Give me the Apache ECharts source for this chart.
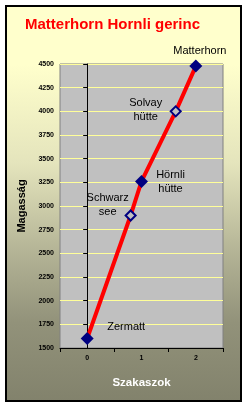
<!DOCTYPE html>
<html><head><meta charset="utf-8">
<script src="https://cdn.jsdelivr.net/npm/echarts@6/dist/echarts.min.js"></script>
<style>html,body{margin:0;padding:0;background:#fff}#c{width:248px;height:408px}</style>
</head><body><div id="c"></div>
<script>
const title = 'Matterhorn Hornli gerinc';
const xTitle = 'Szakaszok';
const yTitle = 'Magasság';
const xTickLabels = ['0', '1', '2'];
const pointNames = ['Zermatt', 'Schwarz\nsee', 'Hörnli\nhütte', 'Solvay\nhütte', 'Matterhorn'];
const pointX = [0, 0.8, 1, 1.63, 2];
const pointY = [1600, 2900, 3260, 4000, 4478];
const pointFilled = [true, false, true, false, true];
const yMin = 1500, yMax = 4500, yStep = 250;

const labelOffsets = [[39, -12], [-23, -10], [29, 1], [-30, -1], [4, -15]];

const chart = echarts.init(document.getElementById('c'), null, {renderer: 'canvas'});
const linePts = pointX.map((x, i) => [x, pointY[i]]);
function pts(filled) {
  return pointX.map((x, i) => ({
    value: [x, pointY[i]], name: pointNames[i], filled: pointFilled[i],
    label: {offset: labelOffsets[i]}
  })).filter(d => d.filled === filled);
}
const lblStyle = {show: true, position: 'inside', formatter: p => p.name, color: '#000',
  fontFamily: 'Liberation Sans, Arial', fontSize: 11, lineHeight: 14, align: 'center', verticalAlign: 'middle'};

chart.setOption({
  animation: false,
  graphic: [{
    type: 'rect', z: -10, silent: true,
    shape: {x: 6, y: 6, width: 235, height: 395},
    style: {
      fill: new echarts.graphic.LinearGradient(0, 0, 0, 1, [
        {offset: 0, color: '#FFFFCC'}, {offset: 0.15, color: '#FFFFCC'},
        {offset: 0.4, color: '#E4E4BC'}, {offset: 0.62, color: '#B4B496'},
        {offset: 0.8, color: '#92927A'}, {offset: 1, color: '#82826C'}]),
      stroke: '#000', lineWidth: 2
    }
  }],
  title: {text: title, left: 20, top: 12,
    textStyle: {color: '#FF0000', fontFamily: 'Liberation Sans, Arial', fontWeight: 'bold', fontSize: 15}},
  grid: {left: 60, right: 25, top: 64, bottom: 60, show: true, backgroundColor: '#C0C0C0',
    borderColor: '#808080', borderWidth: 1},
  xAxis: [{
    type: 'category', data: xTickLabels, boundaryGap: true, position: 'bottom',
    axisLine: {lineStyle: {color: '#000', width: 1}},
    axisTick: {show: true, length: 4, lineStyle: {color: '#000'}},
    axisLabel: {color: '#000', fontFamily: 'Liberation Sans, Arial', fontWeight: 'bold', fontSize: 7, margin: 7},
    name: xTitle, nameLocation: 'middle', nameGap: 29,
    nameTextStyle: {color: '#FFFFFF', fontFamily: 'Liberation Sans, Arial', fontWeight: 'bold', fontSize: 11.5}
  }, {
    type: 'value', min: -0.5, max: 2.5, show: false
  }],
  yAxis: {
    type: 'value', min: yMin, max: yMax, interval: yStep,
    axisLine: {show: true, lineStyle: {color: '#000'}},
    axisTick: {show: true, length: 4, lineStyle: {color: '#000'}},
    axisLabel: {color: '#000', fontFamily: 'Liberation Sans, Arial', fontWeight: 'bold', fontSize: 7, margin: 6,
      formatter: v => String(v)},
    splitLine: {show: true, lineStyle: {color: '#FFFF99', width: 1}},
    name: yTitle, nameLocation: 'middle', nameGap: 31, nameRotate: 90,
    nameTextStyle: {color: '#000', fontFamily: 'Liberation Sans, Arial', fontWeight: 'bold', fontSize: 11}
  },
  series: [{
    type: 'line', xAxisIndex: 1, data: linePts, showSymbol: false, symbol: 'none',
    lineStyle: {color: '#FF0000', width: 4}, z: 2
  }, {
    type: 'scatter', xAxisIndex: 1, data: pts(true), symbol: 'diamond', symbolSize: 13,
    itemStyle: {color: '#000080', opacity: 1}, label: lblStyle, z: 3
  }, {
    type: 'scatter', xAxisIndex: 1, data: pts(false), symbol: 'diamond', symbolSize: 10,
    itemStyle: {color: '#C0C0C0', borderColor: '#000080', borderWidth: 2, opacity: 1}, label: lblStyle, z: 3
  }]
});
</script></body></html>
